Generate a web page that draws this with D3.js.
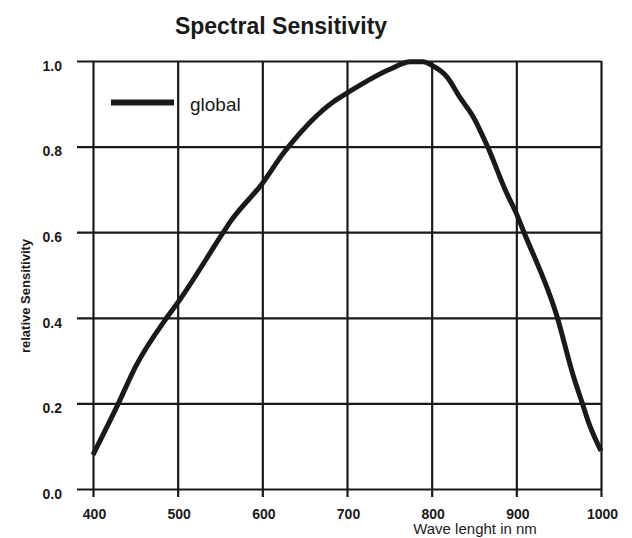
<!DOCTYPE html>
<html>
<head>
<meta charset="utf-8">
<script src="https://cdn.jsdelivr.net/npm/d3@7"></script>
<style>
  body { margin: 0; background: #fff; }
  text { font-family: "Liberation Sans", Arial, sans-serif; fill: #1a1a1a; }
</style>
</head>
<body>
<div id="chart-area"></div>
<script>
// curve
const waveLengths = [400, 430, 450, 487, 500, 554, 562, 600, 625, 631, 684, 700, 750, 775, 790, 800, 818, 834, 849, 866, 888, 900, 909, 947, 968, 978, 986, 1000];
const sensitivity = [0.08, 0.2, 0.285, 0.4, 0.435, 0.6, 0.624, 0.714, 0.785, 0.8, 0.905, 0.925, 0.98, 0.998, 0.998, 0.99, 0.963, 0.913, 0.87, 0.8, 0.694, 0.644, 0.6, 0.41, 0.26, 0.2, 0.152, 0.089];
const xTicks = [400, 500, 600, 700, 800, 900, 1000];
const yTicks = [0, 0.2, 0.4, 0.6, 0.8, 1.0];
const seriesName = "global";

const margin = { left: 93, right: 31, top: 61, bottom: 49 };
const chartSize = { width: 632, height: 538 };
const width = chartSize.width - margin.left - margin.right;
const height = chartSize.height - margin.top - margin.bottom;
const ink = "#1a1a1a";

const svg = d3
  .select("#chart-area")
  .append("svg")
  .attr("width", chartSize.width)
  .attr("height", chartSize.height);

const g = svg
  .append("g")
  .attr("transform", `translate(${margin.left}, ${margin.top})`);

const x = d3.scaleLinear().domain([400, 1000]).range([0, width]);
const y = d3.scaleLinear().domain([0, 1]).range([height, 0]);

// grid: horizontal lines poke out to the left, vertical ones below
const yAxis = d3
  .axisLeft(y)
  .tickValues(yTicks)
  .tickSize(-width)
  .tickSizeOuter(0)
  .tickFormat(d3.format(".1f"));

const yAxisG = g.append("g").attr("class", "y axis").call(yAxis);
yAxisG.select(".domain").remove();
yAxisG.selectAll("line")
  .attr("x1", -16)
  .attr("stroke", ink)
  .attr("stroke-width", 2.2);
yAxisG.selectAll("text")
  .attr("x", -31)
  .attr("dy", "0.8em")
  .attr("y", -2)
  .style("font-size", "14px")
  .style("font-weight", "bold");

const xAxis = d3
  .axisBottom(x)
  .tickValues(xTicks)
  .tickSize(-height)
  .tickSizeOuter(0)
  .tickFormat(d3.format("d"));

const xAxisG = g
  .append("g")
  .attr("class", "x axis")
  .attr("transform", `translate(0, ${height})`)
  .call(xAxis);
xAxisG.select(".domain").remove();
xAxisG.selectAll("line")
  .attr("y1", 8)
  .attr("stroke", ink)
  .attr("stroke-width", 2.2);
xAxisG.selectAll("text")
  .attr("x", 1)
  .attr("y", 30)
  .attr("dy", 0)
  .style("font-size", "14px")
  .style("font-weight", "bold");

const points = waveLengths.map((w, i) => ({ w, s: sensitivity[i] }));

const line = d3
  .line()
  .curve(d3.curveMonotoneX)
  .x(p => x(p.w))
  .y(p => y(p.s));

g.append("path")
  .attr("d", line(points))
  .attr("fill", "none")
  .attr("stroke", ink)
  .attr("stroke-width", 5)
  .attr("stroke-linejoin", "round");

// legend
g.append("line")
  .attr("x1", 18)
  .attr("x2", 81)
  .attr("y1", 41.5)
  .attr("y2", 41.5)
  .attr("stroke", ink)
  .attr("stroke-width", 6);

g.append("text")
  .attr("x", 97)
  .attr("y", 50)
  .style("font-size", "19px")
  .text(seriesName);

svg.append("text")
  .attr("x", 281)
  .attr("y", 34)
  .attr("text-anchor", "middle")
  .style("font-size", "23px")
  .style("font-weight", "bold")
  .text("Spectral Sensitivity");

svg.append("text")
  .attr("x", 475)
  .attr("y", 534)
  .attr("text-anchor", "middle")
  .style("font-size", "15px")
  .text("Wave lenght in nm");

svg.append("text")
  .attr("transform", "translate(30, 296) rotate(-90)")
  .attr("text-anchor", "middle")
  .style("font-size", "13px")
  .style("font-weight", "bold")
  .text("relative Sensitivity");
</script>
</body>
</html>
